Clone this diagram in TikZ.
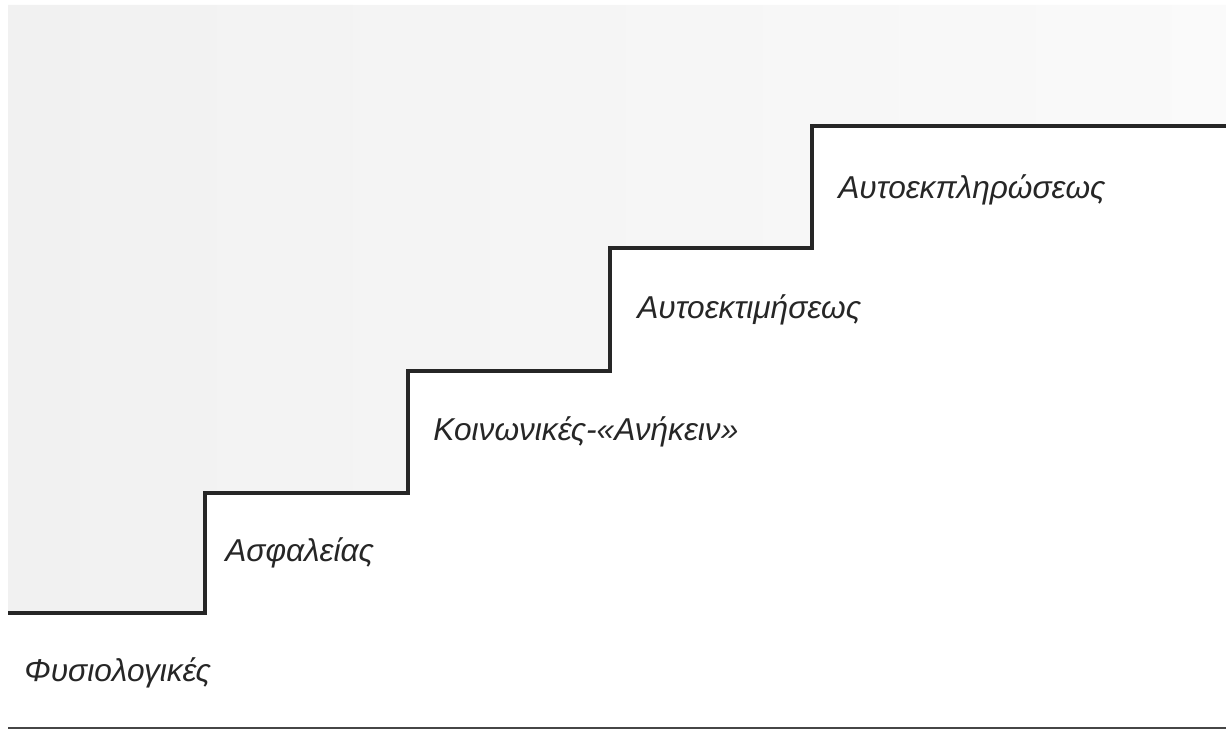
\documentclass[tikz,border=0pt]{standalone}
\usepackage{fontspec}
\setmainfont{Liberation Sans}
\usetikzlibrary{positioning}

\begin{document}
\begin{tikzpicture}[x=0.2mm,y=-0.2mm,
  need/.style={anchor=west, inner sep=0pt, text=black!85,
    font=\fontsize{18}{21}\selectfont\itshape},
  stair/.style={line width=2.2pt, black!85, line join=miter}]
\useasboundingbox (0,0) rectangle (1226,733);

  % corners of the steps
  \coordinate (s0) at (8,613);
  \coordinate (s1) at (205,613);
  \coordinate (s2) at (205,493);
  \coordinate (s3) at (408,493);
  \coordinate (s4) at (408,371);
  \coordinate (s5) at (610,371);
  \coordinate (s6) at (610,248);
  \coordinate (s7) at (812,248);
  \coordinate (s8) at (812,126);
  \coordinate (s9) at (1226,126);
  \coordinate (tl) at (8,5);
  \coordinate (tr) at (1226,5);
  \coordinate (b0) at (8,728);
  \coordinate (b1) at (1226,728);

  \shade[left color=gray!11, right color=gray!4]
    (tl) -- (tr) -- (s9) -- (s8) -- (s7) -- (s6) -- (s5) -- (s4)
    -- (s3) -- (s2) -- (s1) -- (s0) -- cycle;

  \draw[stair] (s0) -- (s1) -- (s2) -- (s3) -- (s4) -- (s5) -- (s6)
    -- (s7) -- (s8) -- (s9);
  \draw[gray!55!black, line width=1.6pt] (b0) -- (b1);

  \node[need] (fysio) at (24,673) {Φυσιολογικές};
  \node[need] (asfal) at (225,553) {Ασφαλείας};
  \node[need] (koin) at (433,432) {Κοινωνικές-«Ανήκειν»};
  \node[need] (ektim) at (637,310) {Αυτοεκτιμήσεως};
  \node[need] (ekpl) at (838,190) {Αυτοεκπληρώσεως};

\end{tikzpicture}
\end{document}
